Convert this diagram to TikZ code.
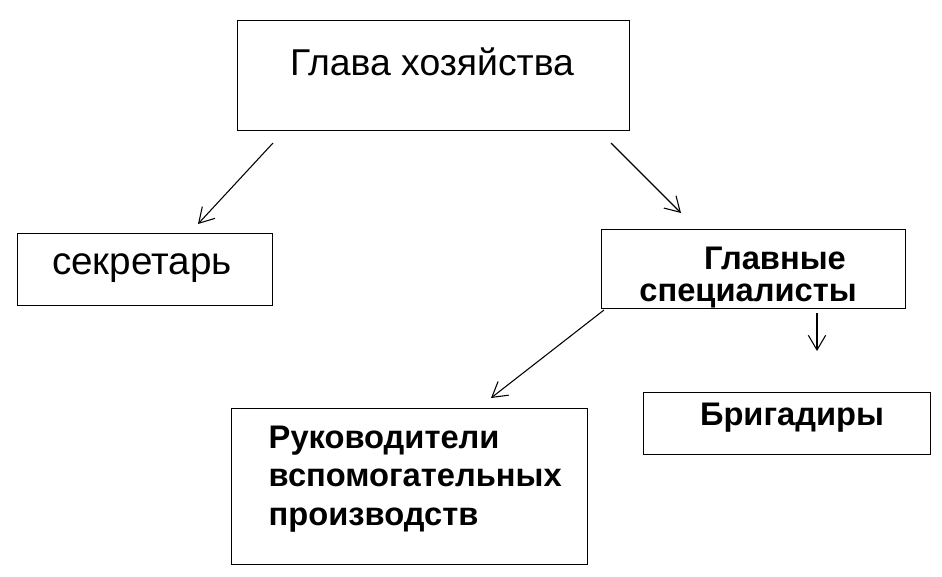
\documentclass[tikz,border=0pt]{standalone}
\usepackage{fontspec}
\setmainfont{Liberation Sans}
\usetikzlibrary{arrows.meta}
\tikzset{%
  org box/.style={
    draw,
    line width=1pt,
    anchor=north west,
    inner sep=0pt
  },
  org text/.style={
    font=\fontsize{28}{32}\selectfont,
    align=left
  },
  org bold/.style={
    font=\fontsize{24.5}{29}\selectfont\bfseries,
    align=left
  },
  link/.style={
    ->,
    line width=0.8pt
  }
}
\begin{document}
\begin{tikzpicture}[x=0.75pt, y=-0.75pt, >={Straight Barb[length=11pt,width=13pt]}]
        \useasboundingbox (0,0) rectangle (942,576);
        % boxes
        \node [org box, minimum width=392*0.75pt, minimum height=110*0.75pt] (head) at (237,20) {};
        \node [org box, minimum width=255*0.75pt, minimum height=72*0.75pt] (secr) at (17,233) {};
        \node [org box, minimum width=304*0.75pt, minimum height=79*0.75pt] (spec) at (601,229) {};
        \node [org box, minimum width=356*0.75pt, minimum height=156*0.75pt] (aux) at (231,408) {};
        \node [org box, minimum width=287*0.75pt, minimum height=62*0.75pt] (brig) at (643,392) {};
        % texts
        \node [org text] (head-t) at (432,62) {Глава хозяйства};
        \node [org text, font=\fontsize{29}{32}\selectfont] (secr-t) at (142,268) {секретарь};
        \node [org bold] (spec-t1) at (775,258) {Главные};
        \node [org bold] (spec-t2) at (748,296) {специалисты};
        \node [org bold, anchor=west] (aux-t) at (264,479) {Руководители\\вспомогательных\\производств};
        \node [org bold] (brig-t) at (792,418) {Бригадиры};
        % arrow ends
        \coordinate (head-l) at (273,143);
        \coordinate (head-r) at (611,143);
        \coordinate (spec-l) at (604,310);
        \coordinate (spec-b) at (817,313);
        \coordinate (secr-in) at (198,224);
        \coordinate (spec-in) at (681,213);
        \coordinate (aux-in) at (491,398);
        \coordinate (brig-in) at (817,351);
        \draw [link] (head-l) -- (secr-in);
        \draw [link] (head-r) -- (spec-in);
        \draw [link] (spec-l) -- (aux-in);
        \draw [link] (spec-b) -- (brig-in);
\end{tikzpicture}
\end{document}
